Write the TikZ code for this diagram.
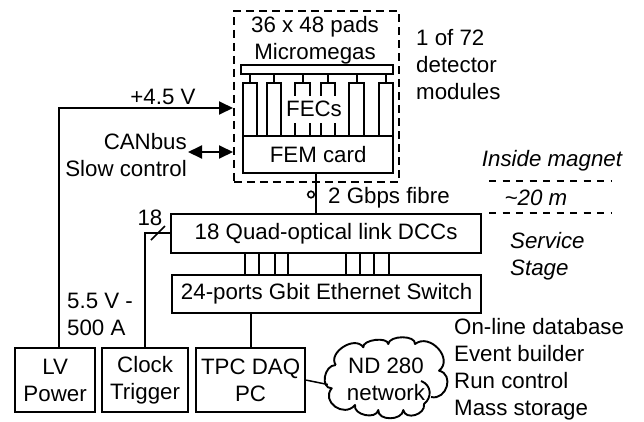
\documentclass[tikz,border=0pt]{standalone}
\usepackage{fontspec}
\setmainfont{Liberation Sans}
\usetikzlibrary{arrows.meta}
\tikzset{
  x=1pt,y=-1pt,
  txtfont/.style={font=\fontsize{22.3}{27}\selectfont},
  lbl/.style={inner sep=0pt,txtfont,align=left},
  boxn/.style={draw,line width=2.2pt,inner sep=0pt,anchor=north west,txtfont,align=center},
  wire/.style={line width=1.9pt},
  hd/.style={-{Triangle[length=14pt,width=13pt]}},
  hdd/.style={{Triangle[length=14pt,width=13pt]}-{Triangle[length=14pt,width=13pt]}},
  dashbox/.style={draw,line width=1.9pt,dash pattern=on 8pt off 5pt},
  dashln/.style={line width=1.2pt,dash pattern=on 7pt off 6.5pt},
  cloudln/.style={line width=1.9pt,line join=round},
}
\begin{document}
\begin{tikzpicture}
\useasboundingbox (0,0) rectangle (644,421);
% dashed module
\node[dashbox,minimum width=165pt,minimum height=171pt,anchor=north west,inner sep=0pt] (mod) at (233,10) {};
\node[lbl] (pads) at (315,27) {36 x 48 pads};
\node[lbl] (mm) at (315,54) {Micromegas};
\node[boxn,minimum width=152pt,minimum height=9pt] (bar) at (240,64) {};
\foreach \n/\xa/\w in {a/242/14,b/266/14,c/294/15,d/320/14,e/348/15,f/378/14}{
  \node[boxn,minimum width=\w pt,minimum height=53pt] (fec\n) at (\xa,82) {};
  \draw[wire] (fec\n.north) -- (fec\n.north |- bar.south);
}
\node[fill=white,inner sep=0pt,minimum width=65pt,minimum height=27pt,txtfont] (fecs) at (314,109) {FECs};
\node[boxn,minimum width=150pt,minimum height=37pt] (fem) at (242,135) {FEM card};
% DCC, switch
\node[boxn,minimum width=310pt,minimum height=39pt] (dcc) at (170,213) {\raisebox{-1.5pt}{18 Quad-optical link DCCs}};
\node[boxn,minimum width=309pt,minimum height=38pt] (sw) at (171,274) {\raisebox{-1.5pt}{24-ports Gbit Ethernet Switch}};
\draw[wire] (fem.south -| 316,0) -- (dcc.north -| 316,0);
\node[draw,circle,line width=1.6pt,minimum size=6.5pt,inner sep=0pt] (fibc) at (311,194.5) {};
\node[lbl,anchor=west] (fib) at (328,197.5) {2 Gbps fibre};
\foreach \x in {245,259,275,288,346,360,374,389}
  \draw[wire] (dcc.south -| \x,0) -- (sw.north -| \x,0);
% bottom boxes
\node[boxn,minimum width=80pt,minimum height=64pt] (lv) at (14,347) {LV\\Power};
\node[boxn,minimum width=86pt,minimum height=64pt] (clk) at (101,347) {Clock\\Trigger};
\node[boxn,minimum width=109pt,minimum height=64pt] (tpc) at (195,347) {TPC DAQ\\PC};
\draw[wire] (sw.south -| tpc.north) -- (tpc.north);
\draw[wire,hd] ([xshift=4pt]lv.north) |- (mod.west |- 0,108);
\draw[wire,hdd] (188,152) -- (mod.west |- 0,152);
\draw[wire] (clk.north) |- (dcc.west |- 0,233);
\coordinate (sl1) at (151,240);
\coordinate (sl2) at (165,226);
\draw[line width=1.5pt] (sl1) -- (sl2);
% labels
\node[lbl] (v45) at (163,97) {+4.5 V};
\node[lbl,align=right,anchor=east] (can) at (187,155) {CANbus\\Slow control};
\node[lbl] (n18) at (150,218) {18};
\node[lbl,anchor=west] (v55) at (67,314) {5.5 V -\\500 A};
\node[lbl,anchor=west] (mods) at (416,65) {1 of 72\\detector\\modules};
\node[lbl,anchor=center,font=\fontsize{22.3}{27}\selectfont\itshape] (im) at (552,160.5) {Inside magnet};
\node[lbl,anchor=center,font=\fontsize{22.3}{27}\selectfont\itshape] (m20) at (536,198) {\char`\~20 m};
\coordinate (d1a) at (489,181); \coordinate (d1b) at (612,181);
\coordinate (d2a) at (489,213); \coordinate (d2b) at (612,213);
\draw[dashln] (d1a) -- (d1b);
\draw[dashln] (d2a) -- (d2b);
\node[lbl,anchor=west,font=\fontsize{22.3}{27}\selectfont\itshape] (ss) at (510,256.5) {Service\\Stage};
\node[lbl,anchor=west] (db) at (454,369.5) {On-line database\\Event builder\\Run control\\Mass storage};
% cloud
\node[lbl,align=center,minimum width=116pt] (cloud) at (386,379.5) {ND 280\\network};
\draw[cloudln] (335.7,365)
  .. controls (327.4,352.6) and (355,334.9) .. (363.3,347.3)
  .. controls (362.3,339.7) and (387.3,336.4) .. (388.3,344)
  .. controls (389.3,335) and (416,335) .. (415,344)
  .. controls (430,332.4) and (454,359) .. (439,370.7)
  .. controls (454.6,374.3) and (446.6,400.6) .. (431,397);
\draw[cloudln] (421,381) .. controls (432,385) and (432,398) .. (424,404)
  .. controls (425.9,414.7) and (405.2,420.7) .. (403.3,410)
  .. controls (402.3,421) and (377.3,421) .. (378.3,410)
  .. controls (376.2,420) and (352.9,415) .. (355,405)
  .. controls (344,418.3) and (320.7,401.6) .. (331.7,388.3)
  .. controls (320,388.3) and (324,365) .. (335.7,365);
\draw[line width=1.5pt] (tpc.east) -- ([yshift=-5pt]cloud.west);
\end{tikzpicture}
\end{document}
